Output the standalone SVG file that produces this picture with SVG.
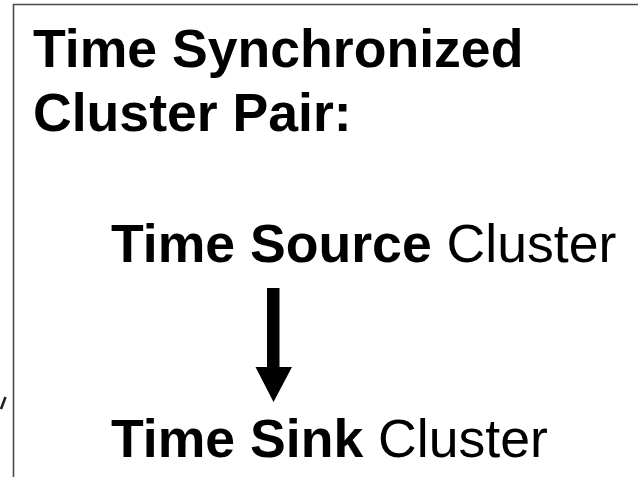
<svg xmlns="http://www.w3.org/2000/svg" width="638" height="477" viewBox="0 0 638 477">
<style>
.t{font-family:"Liberation Sans",Arial,sans-serif;font-size:53.6px;fill:#000}
.b{font-weight:bold}
.frame{fill:none;stroke:#4a4a4a;stroke-width:1.6}
</style>
<rect width="638" height="477" fill="#fff"/>
<path class="frame" d="M13.5,477 V4.5 H638"/>
<path d="M1,409 L5.5,397" stroke="#222" stroke-width="2.6" fill="none"/>
<g id="title">
<text class="t b" x="33" y="67">Time Synchronized</text>
<text class="t b" x="33" y="131">Cluster Pair:</text>
</g>
<g id="source">
<text class="t" x="111" y="262"><tspan class="b">Time Source</tspan> Cluster</text>
</g>
<g id="sink">
<text class="t" x="111" y="457"><tspan class="b">Time Sink</tspan> Cluster</text>
</g>
<g id="connectors">
<path d="M267,288 H279.5 V367 H292 L273.5,402 L255.5,367 H267 Z" fill="#000"/>
</g>
</svg>
